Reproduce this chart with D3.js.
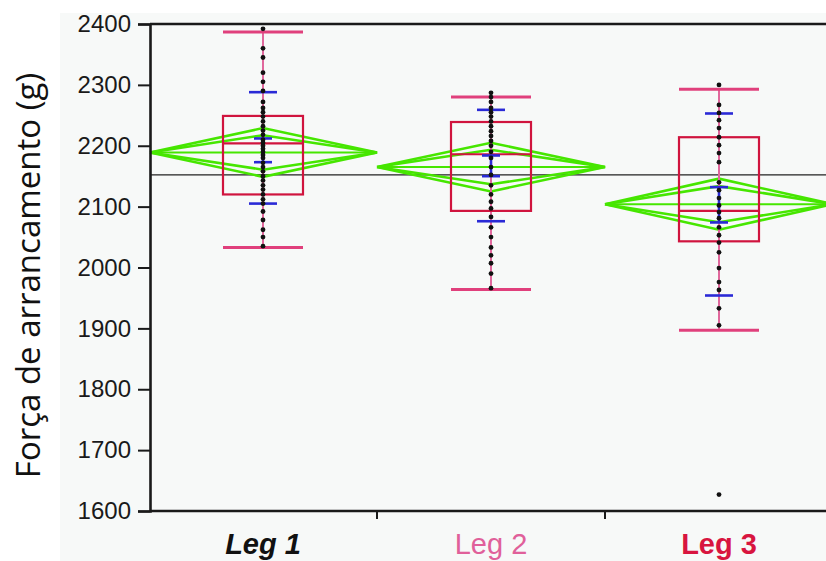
<!doctype html>
<html lang="pt">
<head>
<meta charset="UTF-8" />
<title>Força de arrancamento</title>
<script src="https://cdnjs.cloudflare.com/ajax/libs/d3/7.8.5/d3.min.js"></script>
<style>
  html, body { margin: 0; padding: 0; background: #fff; }
  svg { display: block; }
</style>
</head>
<body>
<svg id="chart" width="826" height="561"></svg>
<script>
// groups and values
const legs = ["Leg 1", "Leg 2", "Leg 3"];
const yTicks = [1600, 1700, 1800, 1900, 2000, 2100, 2200, 2300, 2400];

const leg1 = [2392, 2360, 2345, 2320, 2305, 2290, 2272, 2262, 2255, 2248, 2240, 2232, 2225,
  2218, 2210, 2205, 2200, 2195, 2190, 2185, 2180, 2172, 2165, 2158, 2150, 2143, 2135, 2128,
  2120, 2112, 2105, 2092, 2078, 2062, 2050, 2035];
const leg2 = [2287, 2280, 2272, 2262, 2255, 2248, 2240, 2232, 2224, 2216, 2208, 2200, 2190,
  2180, 2165, 2152, 2135, 2120, 2108, 2097, 2083, 2066, 2050, 2033, 2020, 2007, 1990, 1966];
const leg3 = [2300, 2267, 2254, 2242, 2229, 2214, 2201, 2188, 2173, 2140, 2127, 2114, 2102,
  2091, 2081, 2066, 2053, 2041, 2025, 1999, 1976, 1963, 1933, 1905, 1627];
const points = [leg1, leg2, leg3];

// box plot
const q1 = [2120, 2093, 2043];
const median = [2204, 2186, 2093];
const q3 = [2249, 2239, 2214];
const whiskerLo = [2033, 1964, 1897];
const whiskerHi = [2387, 2280, 2293];

// means diamonds
const means = [2189, 2165, 2104];
const ci = [40, 40, 42];

// std dev lines and mean error bars
const sdLo = [2105, 2076, 1954];
const sdHi = [2288, 2259, 2253];
const seLo = [2173, 2150, 2074];
const seHi = [2212, 2184, 2132];

const grandMean = 2152;

const labelColors = ["#111", "#e0609a", "#d8153f"];
const labelStyle = ["italic", "normal", "normal"];
const labelWeight = ["bold", "normal", "bold"];

const W = 826, H = 561;
const mLeft = 150, mTop = 24, mBottom = 511;

const svg = d3.select("#chart");

// light grey background of the original plot image
svg.append("rect").attr("x", 60).attr("y", 13).attr("width", W - 60).attr("height", H - 13)
  .attr("fill", "#f7f9f8");

const y = d3.scaleLinear().domain([1600, 2400]).range([mBottom, mTop]);
const x = d3.scaleBand().domain(legs).range([149, 833]).padding(0);
const bw = x.bandwidth();
const cx = d => x(d) + bw / 2;

// grand mean
svg.append("line")
  .attr("x1", mLeft).attr("x2", W)
  .attr("y1", y(grandMean)).attr("y2", y(grandMean))
  .attr("stroke", "#222").attr("stroke-width", 1.3);

const g = svg.selectAll("g.leg").data(legs).join("g").attr("class", "leg");

// means diamonds + overlap marks
const diamond = (i, h) => {
  const x0 = Math.max(x(legs[i]), mLeft), x1 = x(legs[i]) + bw, xc = cx(legs[i]);
  return d3.line()([[x0, y(means[i])], [xc, y(means[i] + h)], [x1, y(means[i])],
    [xc, y(means[i] - h)], [x0, y(means[i])]]);
};
g.append("path").attr("d", (d, i) => diamond(i, ci[i]))
  .attr("fill", "none").attr("stroke", "#46e600").attr("stroke-width", 2.6);
g.append("path").attr("d", (d, i) => diamond(i, ci[i] * Math.SQRT1_2))
  .attr("fill", "none").attr("stroke", "#46e600").attr("stroke-width", 2.6);
g.append("line")
  .attr("x1", (d, i) => Math.max(x(d), mLeft)).attr("x2", d => x(d) + bw)
  .attr("y1", (d, i) => y(means[i])).attr("y2", (d, i) => y(means[i]))
  .attr("stroke", "#46e600").attr("stroke-width", 2);

// whisker
g.append("line")
  .attr("x1", cx).attr("x2", cx)
  .attr("y1", (d, i) => y(whiskerLo[i])).attr("y2", (d, i) => y(whiskerHi[i]))
  .attr("stroke", "#e0689c").attr("stroke-width", 2);

// box + median
const boxHalf = 40;
g.append("rect")
  .attr("x", d => cx(d) - boxHalf).attr("width", boxHalf * 2)
  .attr("y", (d, i) => y(q3[i])).attr("height", (d, i) => y(q1[i]) - y(q3[i]))
  .attr("fill", "none").attr("stroke", "#d0143e").attr("stroke-width", 2.2);
g.append("line")
  .attr("x1", d => cx(d) - boxHalf).attr("x2", d => cx(d) + boxHalf)
  .attr("y1", (d, i) => y(median[i])).attr("y2", (d, i) => y(median[i]))
  .attr("stroke", "#d0143e").attr("stroke-width", 2.2);

// caps
[whiskerLo, whiskerHi].forEach(arr => {
  g.append("line")
    .attr("x1", d => cx(d) - boxHalf).attr("x2", d => cx(d) + boxHalf)
    .attr("y1", (d, i) => y(arr[i])).attr("y2", (d, i) => y(arr[i]))
    .attr("stroke", "#e0407c").attr("stroke-width", 3);
});

// std dev lines, mean error bars
const blue = "#2a2ad6";
[[sdLo, 14], [sdHi, 14], [seLo, 9], [seHi, 9]].forEach(([arr, hw]) => {
  g.append("line")
    .attr("x1", d => cx(d) - hw).attr("x2", d => cx(d) + hw)
    .attr("y1", (d, i) => y(arr[i])).attr("y2", (d, i) => y(arr[i]))
    .attr("stroke", blue).attr("stroke-width", 2.6);
});
g.append("line")
  .attr("x1", cx).attr("x2", cx)
  .attr("y1", (d, i) => y(seLo[i])).attr("y2", (d, i) => y(seHi[i]))
  .attr("stroke", blue).attr("stroke-width", 2.6);

// raw points
g.selectAll("circle").data((d, i) => points[i].map(v => ({ leg: d, v })))
  .join("circle")
  .attr("cx", p => cx(p.leg)).attr("cy", p => y(p.v))
  .attr("r", 2.4).attr("fill", "#111");

// top frame line
svg.append("line").attr("x1", mLeft).attr("x2", W).attr("y1", mTop).attr("y2", mTop)
  .attr("stroke", "#1a1a1a").attr("stroke-width", 2.6);

// y axis
const yAxis = svg.append("g").attr("transform", `translate(${mLeft},0)`)
  .call(d3.axisLeft(y).tickValues(yTicks).tickSize(12).tickPadding(7).tickFormat(d3.format("d")));
yAxis.select(".domain").attr("stroke", "#1a1a1a").attr("stroke-width", 2.6);
yAxis.selectAll(".tick line").attr("stroke", "#1a1a1a").attr("stroke-width", 2);
yAxis.selectAll(".tick text")
  .attr("font-family", "'Liberation Sans', Arial, sans-serif")
  .attr("font-size", 24).attr("fill", "#1a1a1a");

// x axis: labels centred, ticks on the group boundaries
const xAxis = svg.append("g").attr("transform", `translate(0,${mBottom})`)
  .call(d3.axisBottom(x).tickSize(0).tickPadding(22));
xAxis.select(".domain").attr("d", `M${mLeft},0H${W}`)
  .attr("stroke", "#1a1a1a").attr("stroke-width", 2.6);
xAxis.selectAll(".tick text")
  .attr("font-family", "'Liberation Sans', Arial, sans-serif")
  .attr("font-size", 29)
  .attr("fill", (d, i) => labelColors[i])
  .attr("font-style", (d, i) => labelStyle[i])
  .attr("font-weight", (d, i) => labelWeight[i]);
xAxis.selectAll("line.sep").data(legs.slice(1)).join("line").attr("class", "sep")
  .attr("x1", d => x(d)).attr("x2", d => x(d))
  .attr("y1", 0).attr("y2", 8)
  .attr("stroke", "#1a1a1a").attr("stroke-width", 2);

// y title
svg.append("text")
  .attr("transform", `translate(40,${(63 + 488) / 2}) rotate(-90)`)
  .attr("text-anchor", "middle")
  .attr("font-family", "'Open Sans', 'Noto Sans', sans-serif")
  .attr("font-size", 33)
  .attr("fill", "#111")
  .text("Força de arrancamento (g)");
</script>
</body>
</html>
